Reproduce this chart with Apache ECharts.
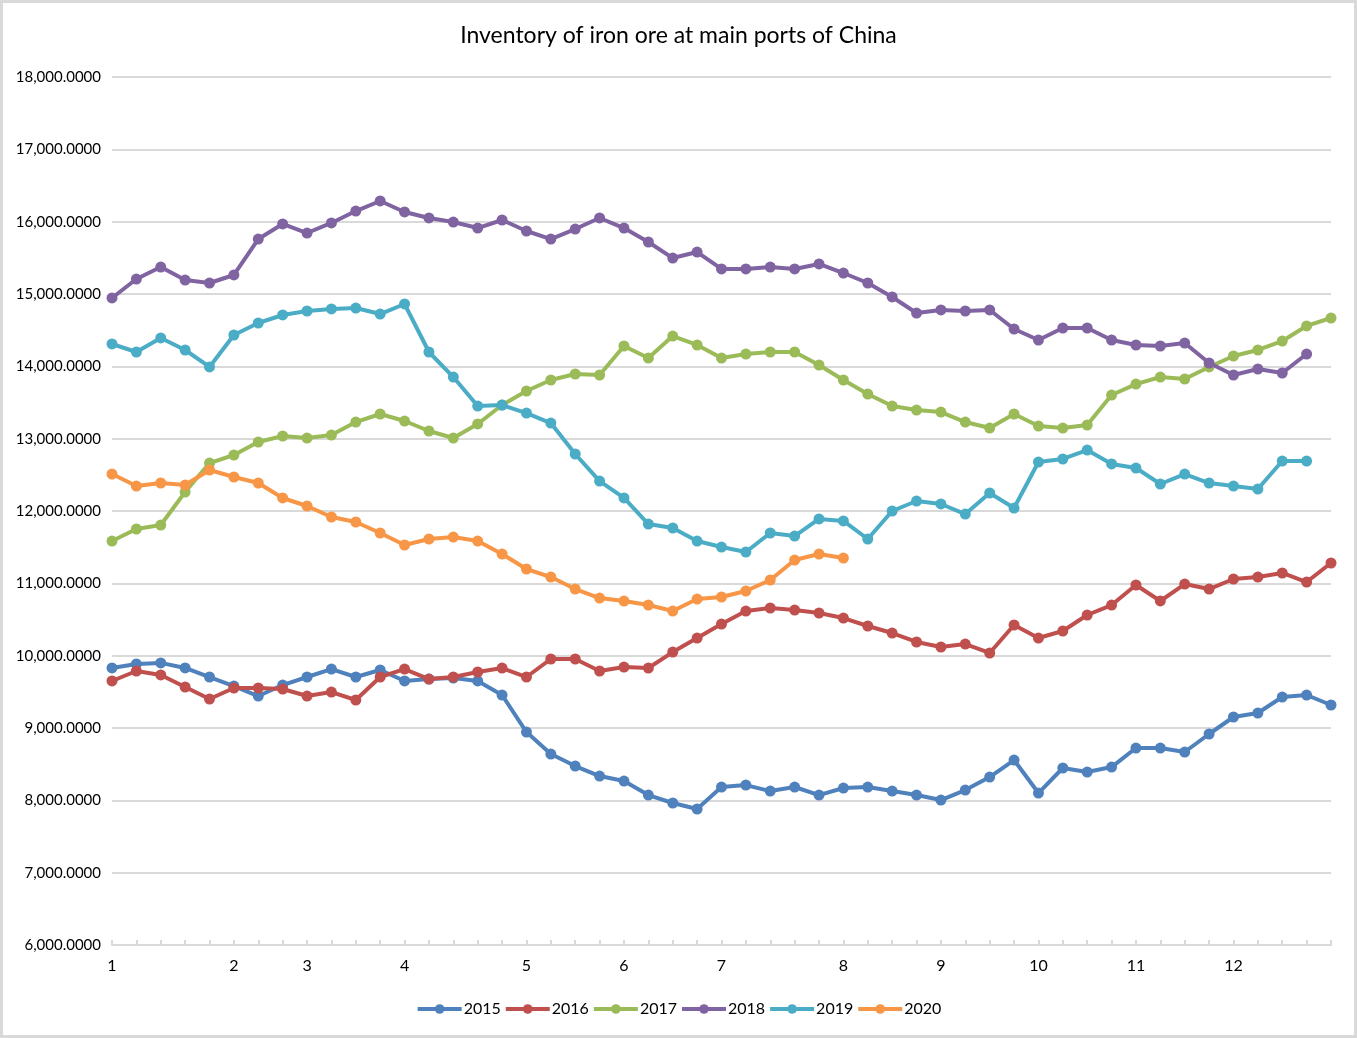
<!DOCTYPE html>
<html>
<head>
<meta charset="utf-8">
<script src="https://cdn.jsdelivr.net/npm/echarts@6/dist/echarts.min.js"></script>
<style>
html,body{margin:0;padding:0;background:#fff;}
#wrap{position:absolute;left:0;top:0;width:1357px;height:1038px;box-sizing:border-box;border:3px solid #d9d9d9;}
#chart{position:absolute;left:0;top:0;width:1357px;height:1038px;}
</style>
</head>
<body>
<div id="chart"></div>
<div id="wrap"></div>
<script>
const categories = ['1','','','','','2','','','3','','','','4','','','','','5','','','','6','','','','7','','','','','8','','','','9','','','','10','','','','11','','','','12','','','',''];
const yearNames = ['2015','2016','2017','2018','2019','2020'];
const s2015 = [9830,9885,9900,9830,9705,9580,9442,9594,9705,9815,9705,9802,9650,9677,9691,9650,9456,8944,8640,8474,8336,8267,8073,7963,7880,8184,8211,8128,8184,8073,8170,8184,8128,8073,8004,8142,8322,8557,8101,8447,8391,8460,8723,8723,8668,8917,9152,9207,9428,9456,9318];
const s2016 = [9650,9788,9733,9567,9401,9553,9553,9539,9442,9497,9387,9705,9815,9677,9705,9774,9829,9705,9954,9954,9788,9843,9829,10050,10244,10437,10617,10659,10631,10590,10520,10410,10313,10189,10120,10161,10037,10424,10244,10341,10562,10700,10977,10756,10990,10921,11060,11087,11143,11018,11281];
const s2017 = [11585,11751,11806,12262,12663,12774,12954,13037,13009,13050,13230,13341,13244,13106,13009,13203,13465,13659,13811,13894,13880,14281,14115,14419,14295,14115,14170,14198,14198,14018,13811,13617,13451,13396,13368,13230,13147,13341,13175,13147,13189,13603,13755,13852,13825,13991,14143,14226,14350,14558,14668];
const s2018 = [14945,15207,15373,15193,15152,15263,15760,15968,15843,15982,16147,16286,16134,16051,15995,15912,16023,15871,15760,15898,16051,15912,15719,15497,15580,15346,15346,15373,15346,15415,15290,15152,14959,14737,14779,14765,14779,14516,14364,14530,14530,14364,14295,14281,14322,14046,13880,13963,13908,14170,null];
const s2019 = [14309,14198,14392,14226,13991,14433,14599,14710,14765,14793,14806,14723,14862,14198,13852,13451,13465,13354,13216,12788,12414,12180,11820,11765,11585,11502,11433,11696,11654,11890,11862,11613,12000,12138,12097,11958,12249,12041,12677,12719,12843,12650,12594,12373,12511,12387,12345,12304,12691,12691,null];
const s2020 = [12511,12345,12387,12359,12567,12470,12387,12180,12069,11917,11848,11696,11530,11613,11640,11585,11405,11198,11087,10921,10797,10755,10700,10617,10783,10811,10894,11046,11322,11405,11350];
const seriesValues = [s2015,s2016,s2017,s2018,s2019,s2020];
const colors = ['#4F81BD','#C0504D','#9BBB59','#8064A2','#4BACC6','#F79646'];
const FONT = 'Lato, "Open Sans", sans-serif';

const chart = echarts.init(document.getElementById('chart'));
chart.setOption({
  animation:false,
  backgroundColor:'#fff',
  color:colors,
  title:{text:'Inventory of iron ore at main ports of China',left:'center',top:19,
    textStyle:{fontFamily:FONT,fontSize:23,fontWeight:'normal',color:'#000'}},
  legend:{bottom:16,left:'center',itemWidth:44,itemHeight:12,itemGap:3,
    lineStyle:{width:4},
    textStyle:{fontFamily:FONT,fontSize:16,color:'#000',padding:[0,0,0,-3]},data:yearNames},
  grid:{left:112,right:26,top:77,bottom:93,containLabel:false},
  xAxis:{type:'category',boundaryGap:false,data:categories,
    axisLine:{lineStyle:{color:'#d9d9d9',width:2}},
    axisTick:{show:true,inside:true,length:5,interval:0,lineStyle:{color:'#d9d9d9',width:2}},
    axisLabel:{interval:0,margin:13,fontFamily:FONT,fontSize:16,color:'#000'},
    splitLine:{show:false}},
  yAxis:{type:'value',min:6000,max:18000,interval:1000,
    axisLine:{show:false},axisTick:{show:false},
    splitLine:{lineStyle:{color:'#d9d9d9',width:2}},
    axisLabel:{margin:11,fontFamily:FONT,fontSize:15,color:'#000',
      formatter:v=>v.toLocaleString('en-US',{minimumFractionDigits:4,maximumFractionDigits:4})}},
  series:yearNames.map((n,i)=>({name:n,type:'line',data:seriesValues[i],
    symbol:'circle',symbolSize:11,showSymbol:true,
    lineStyle:{width:4,color:colors[i]},itemStyle:{color:colors[i]},
    z:2+i}))
});
</script>
</body>
</html>
